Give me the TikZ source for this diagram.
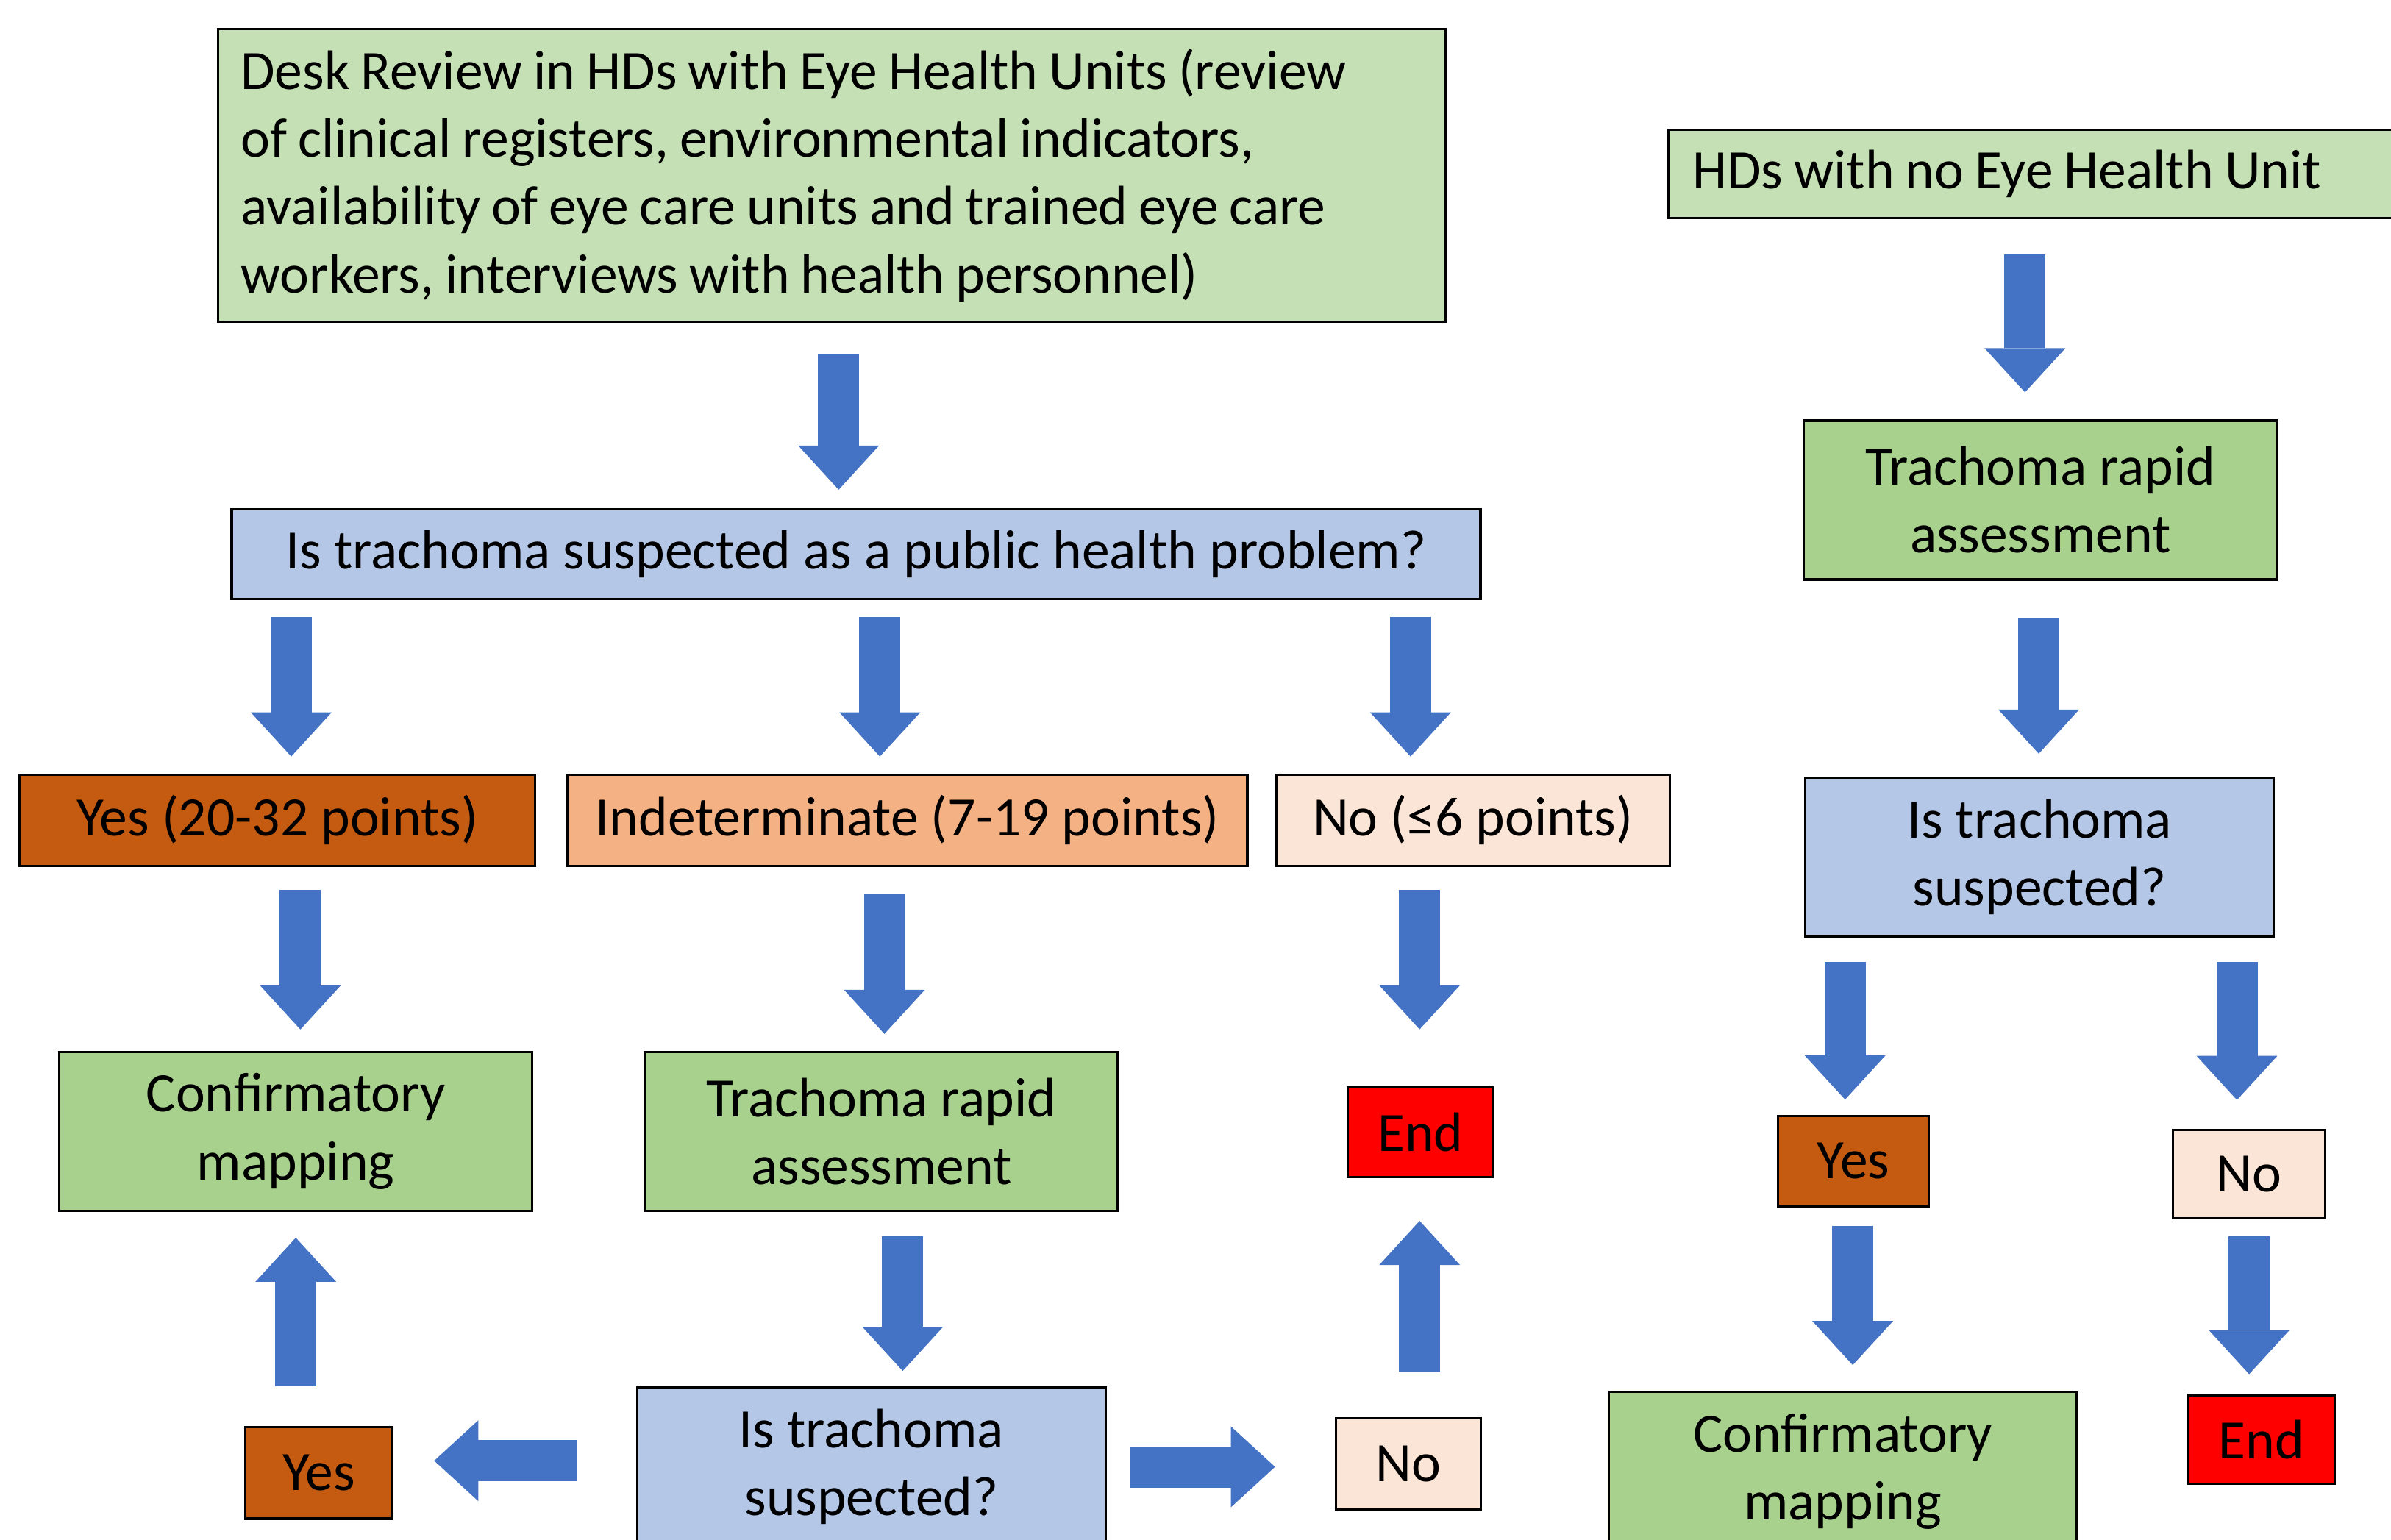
\documentclass[tikz,border=0pt]{standalone}
\usepackage{fontspec}
\setmainfont{Carlito}
\usetikzlibrary{arrows.meta}
\definecolor{lgreen}{HTML}{C5E0B4}
\definecolor{mgreen}{HTML}{A9D18E}
\definecolor{qblue}{HTML}{B4C7E7}
\definecolor{dorange}{HTML}{C55A11}
\definecolor{lorange}{HTML}{F4B183}
\definecolor{peach}{HTML}{FBE5D6}
\definecolor{ablue}{HTML}{4472C4}
\tikzset{
  box/.style={draw=black,line width=0.9pt,inner sep=0pt,align=center,
    font=\fontsize{21.5}{26.2}\selectfont},
  gbox/.style={box,fill=mgreen,minimum width=6.43cm,minimum height=2.16cm},
  qbox/.style={box,fill=qblue},
  blk/.style={draw=ablue,line width=0.56cm,
    -{Triangle[width=1.1cm,length=0.6cm,line width=0pt]}}
}
\begin{document}
\begin{tikzpicture}
\useasboundingbox (0,0) rectangle (32.51,-20.94);
% left part
\node[box,fill=lgreen,inner xsep=0.31cm,text width=16.07cm,align=left,minimum height=3.98cm] (desk) at (11.31,-2.384)
  {\spaceskip=0.2em Desk Review in HDs with Eye Health Units (review\\
   of clinical registers, environmental indicators,\\
   availability of eye care units and trained eye care\\
   workers, interviews with health personnel)};
\node[qbox,minimum width=16.98cm,minimum height=1.223cm] (q1) at (11.64,-7.536)
  {Is trachoma suspected as a public health problem?};
\node[box,fill=dorange,minimum width=7.01cm,minimum height=1.244cm] (yes1) at (3.773,-11.154) {Yes (20-32 points)};
\node[box,fill=lorange,minimum width=9.247cm,minimum height=1.244cm] (ind) at (12.336,-11.154) {Indeterminate (7-19 points)};
\node[box,fill=peach,minimum width=5.349cm,minimum height=1.244cm] (no1) at (20.028,-11.154) {No (≤6 points)};
\node[gbox] (map1) at (4.022,-15.384) {Confirmatory\\mapping};
\node[gbox] (tra1) at (11.984,-15.384) {Trachoma rapid\\assessment};
\node[box,fill=red,minimum width=1.97cm,minimum height=1.223cm] (end1) at (19.313,-15.394) {End};
\node[box,fill=dorange,minimum width=1.99cm,minimum height=1.244cm] (yes2) at (4.333,-20.028) {Yes};
\node[qbox,minimum width=6.365cm,minimum height=2.156cm] (q2) at (11.849,-19.945) {Is trachoma\\suspected?};
\node[box,fill=peach,minimum width=1.97cm,minimum height=1.244cm] (no2) at (19.147,-19.903) {No};
% right part
\node[box,fill=lgreen,inner xsep=0.33cm,text width=9.31cm,align=left,minimum height=1.203cm] (hds) at (27.668,-2.364)
  {\spaceskip=0.2em HDs with no Eye Health Unit};
\node[gbox] (tra2) at (27.741,-6.8) {Trachoma rapid\\assessment};
\node[qbox,minimum width=6.365cm,minimum height=2.156cm] (q3) at (27.73,-11.652) {Is trachoma\\suspected?};
\node[box,fill=dorange,minimum width=2.052cm,minimum height=1.223cm] (yes3) at (25.2,-15.788) {Yes};
\node[box,fill=peach,minimum width=2.073cm,minimum height=1.203cm] (no3) at (30.58,-15.964) {No};
\node[gbox,minimum width=6.365cm] (map2) at (25.056,-20.007) {Confirmatory\\mapping};
\node[box,fill=red,minimum width=1.99cm,minimum height=1.203cm] (end2) at (30.747,-19.572) {End};
% arrows, left
\draw[blk,shorten <=.43cm,shorten >=.25cm] (desk.south -| 11.403,0) -- (q1.north -| 11.403,0);
\draw[blk,shorten <=.23cm,shorten >=.23cm] (q1.south -| 3.96,0) -- (yes1.north -| 3.96,0);
\draw[blk,shorten <=.23cm,shorten >=.23cm] (q1.south -| 11.963,0) -- (ind.north -| 11.963,0);
\draw[blk,shorten <=.23cm,shorten >=.23cm] (q1.south -| 19.178,0) -- (no1.north -| 19.178,0);
\draw[blk,shorten <=.31cm,shorten >=.29cm] (yes1.south -| 4.084,0) -- (map1.north -| 4.084,0);
\draw[blk,shorten <=.37cm,shorten >=.23cm] (ind.south -| 12.025,0) -- (tra1.north -| 12.025,0);
\draw[blk,shorten <=.31cm,shorten >=.77cm] (no1.south -| 19.302,0) -- (end1.north -| 19.302,0);
\draw[blk,shorten <=.33cm,shorten >=.21cm] (tra1.south -| 12.274,0) -- (q2.north -| 12.274,0);
\draw[blk,shorten <=.54cm,shorten >=.35cm] (yes2.north -| 4.022,0) -- (map1.south -| 4.022,0);
\draw[blk,shorten <=.62cm,shorten >=.58cm] (no2.north -| 19.302,0) -- (end1.south -| 19.302,0);
\draw[blk,shorten <=.81cm,shorten >=.56cm] (q2.west |- 0,-19.862) -- (yes2.east |- 0,-19.862);
\draw[blk,shorten <=.31cm,shorten >=.81cm] (q2.east |- 0,-19.945) -- (no2.west |- 0,-19.945);
% arrows, right
\draw[blk,shorten <=.48cm,shorten >=.37cm] (hds.south -| 27.533,0) -- (tra2.north -| 27.533,0);
\draw[blk,shorten <=.5cm,shorten >=.31cm] (tra2.south -| 27.72,0) -- (q3.north -| 27.72,0);
\draw[blk,shorten <=.33cm,shorten >=.21cm] (q3.south -| 25.087,0) -- (yes3.north -| 25.087,0);
\draw[blk,shorten <=.33cm,shorten >=.39cm] (q3.south -| 30.415,0) -- (no3.north -| 30.415,0);
\draw[blk,shorten <=.25cm,shorten >=.35cm] (yes3.south -| 25.191,0) -- (map2.north -| 25.191,0);
\draw[blk,shorten <=.23cm,shorten >=.27cm] (no3.south -| 30.581,0) -- (end2.north -| 30.581,0);
\end{tikzpicture}
\end{document}
